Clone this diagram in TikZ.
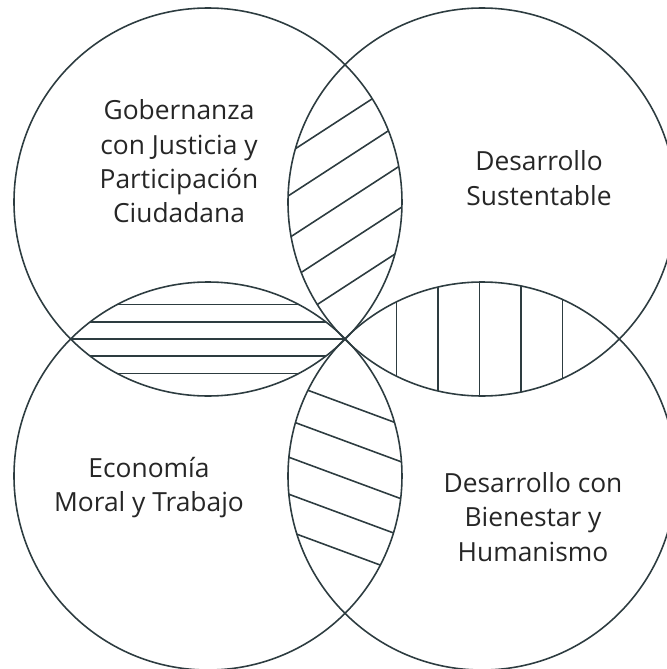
\documentclass[tikz,border=0pt]{standalone}
\usepackage{fontspec}
\setmainfont{Open Sans}
\usepackage{tikz}
\usepackage{xcolor}
\usetikzlibrary{calc}

\definecolor{ringline}{RGB}{45,60,64}

\begin{document}
\begin{tikzpicture}[
  ring/.style={draw=ringline, line width=0.9pt},
  hatch/.style={draw=ringline, line width=0.9pt},
  areatext/.style={font=\fontsize{15}{19.5}\selectfont, text=black!85, align=center}
]
\def\R{3.88}
\useasboundingbox (-6.9,-6.6) rectangle (6.44,6.78);
\clip (-6.9,-6.6) rectangle (6.44,6.78);

% Circle centres (all circles meet at the origin)
\coordinate (ctl) at (-2.74,2.74);
\coordinate (ctr) at (2.74,2.74);
\coordinate (cbl) at (-2.74,-2.74);
\coordinate (cbr) at (2.74,-2.74);

% Top lens: rising diagonal hatching
\begin{scope}
  \clip (ctl) circle (\R);
  \clip (ctr) circle (\R);
  \foreach \k in {0,...,4}
    \draw[hatch] (-3,{1.05+0.85*\k-1.95}) -- (3,{1.05+0.85*\k+1.95});
\end{scope}

% Left lens: horizontal hatching
\begin{scope}
  \clip (ctl) circle (\R);
  \clip (cbl) circle (\R);
  \foreach \k in {-2,...,2}
    \draw[hatch] (-7,{0.345*\k}) -- (0.5,{0.345*\k});
\end{scope}

% Right lens: vertical hatching
\begin{scope}
  \clip (ctr) circle (\R);
  \clip (cbr) circle (\R);
  \foreach \k in {0,...,4}
    \draw[hatch] ({1.03+0.83*\k},-2) -- ({1.03+0.83*\k},2);
\end{scope}

% Bottom lens: falling diagonal hatching
\begin{scope}
  \clip (cbl) circle (\R);
  \clip (cbr) circle (\R);
  \foreach \k in {0,...,4}
    \draw[hatch] (-3,{-1.30-0.74*\k+1.11}) -- (3,{-1.30-0.74*\k-1.11});
\end{scope}

% The four circles
\draw[ring] (ctl) circle (\R);
\draw[ring] (ctr) circle (\R);
\draw[ring] (cbl) circle (\R);
\draw[ring] (cbr) circle (\R);

% Labels
\node[areatext] (gob) at (-3.32,3.55) {Gobernanza\\con Justicia y\\Participación\\Ciudadana};
\node[areatext] (sus) at (3.88,3.22) {Desarrollo\\Sustentable};
\node[areatext] (eco) at (-3.92,-2.97) {Economía\\Moral y Trabajo};
\node[areatext] (bie) at (3.76,-3.56) {Desarrollo con\\Bienestar y\\Humanismo};
\end{tikzpicture}
\end{document}
